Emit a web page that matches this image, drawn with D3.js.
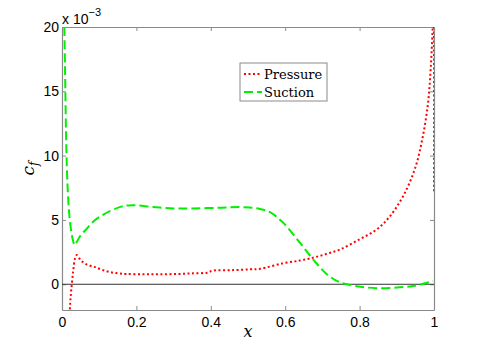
<!DOCTYPE html>
<html>
<head>
<meta charset="utf-8">
<script src="https://cdn.jsdelivr.net/npm/d3@7"></script>
<style>
  body { margin: 0; background: #fff; }
  .tick text { font-family: "Liberation Sans", Arial, sans-serif; font-size: 14px; fill: #000; }
</style>
</head>
<body>
<div id="chart"></div>
<script>
// pressure side skin friction (x, cf * 1e3)
const pressureX = [0.019, 0.022, 0.025, 0.03, 0.035, 0.04, 0.047, 0.055, 0.066, 0.08, 0.092, 0.11, 0.128, 0.15, 0.173, 0.22, 0.263, 0.31, 0.352, 0.39, 0.406, 0.46, 0.505, 0.532, 0.594, 0.64, 0.675, 0.71, 0.747, 0.8, 0.846, 0.882, 0.917, 0.949, 0.97, 0.984, 0.991, 0.9965, 0.999, 1.0]
const pressureY = [-3, -1.5, -0.4, 1.0, 2.0, 2.27, 2.0, 1.75, 1.55, 1.4, 1.3, 1.1, 0.95, 0.85, 0.8, 0.78, 0.78, 0.8, 0.85, 0.9, 1.06, 1.1, 1.16, 1.2, 1.63, 1.85, 2.07, 2.35, 2.7, 3.5, 4.26, 5.3, 6.85, 9.0, 11.5, 14.1, 16.7, 20, 23, 7.1]

// suction side
const suctionX = [0.005, 0.008, 0.012, 0.016, 0.021, 0.028, 0.034, 0.04, 0.05, 0.066, 0.085, 0.11, 0.155, 0.19, 0.245, 0.3, 0.352, 0.424, 0.478, 0.505, 0.532, 0.559, 0.594, 0.639, 0.675, 0.712, 0.747, 0.792, 0.846, 0.908, 0.954, 0.997]
const suctionY = [22, 17, 10.2, 7, 5.0, 3.6, 3.05, 3.3, 3.8, 4.3, 4.9, 5.4, 6.0, 6.15, 6.0, 5.9, 5.9, 5.95, 6.0, 5.97, 5.85, 5.6, 4.8, 3.25, 1.94, 0.78, 0.15, -0.15, -0.3, -0.24, -0.08, 0.25]

const xTicks = [0, 0.2, 0.4, 0.6, 0.8, 1]
const yTicks = [0, 5, 10, 15, 20]
const seriesNames = ["Pressure", "Suction"]

const margin = { top: 27, right: 45, bottom: 39, left: 62 }
const width = 479 - margin.left - margin.right
const height = 349 - margin.top - margin.bottom

const svg = d3.select("#chart").append("svg")
    .attr("width", 479)
    .attr("height", 349)
  .append("g")
    .attr("transform", "translate(" + margin.left + "," + margin.top + ")")

const xPositionScale = d3.scaleLinear().domain([0, 1]).range([0, width])
const yPositionScale = d3.scaleLinear().domain([-2, 20]).range([height, 0])

svg.append("defs").append("clipPath").attr("id", "clip")
  .append("rect").attr("width", width).attr("height", height)

// axes, ticks point inward like matlab
svg.append("g").attr("class", "axis x-axis")
  .attr("transform", "translate(0," + height + ")")
  .call(d3.axisBottom(xPositionScale).tickValues(xTicks).tickFormat(d3.format("~g")).tickSizeInner(-4).tickSizeOuter(0).tickPadding(7))
svg.append("g").attr("class", "axis x-axis-top")
  .call(d3.axisTop(xPositionScale).tickValues(xTicks).tickFormat("").tickSizeInner(-4).tickSizeOuter(0))
svg.append("g").attr("class", "axis y-axis")
  .call(d3.axisLeft(yPositionScale).tickValues(yTicks).tickSizeInner(-4).tickSizeOuter(0).tickPadding(3))
svg.append("g").attr("class", "axis y-axis-right")
  .attr("transform", "translate(" + width + ",0)")
  .call(d3.axisRight(yPositionScale).tickValues(yTicks).tickFormat("").tickSizeInner(-4).tickSizeOuter(0))

svg.selectAll(".axis path, .axis line").attr("stroke", "#8a8a8a")
svg.selectAll(".axis path").attr("stroke-width", 1.2)

// zero line
svg.append("line")
  .attr("x1", xPositionScale(0)).attr("x2", xPositionScale(1))
  .attr("y1", yPositionScale(0)).attr("y2", yPositionScale(0))
  .attr("stroke", "#333").attr("stroke-width", 1)

const pressure = pressureX.map((x, i) => [x, pressureY[i]])
const suction = suctionX.map((x, i) => [x, suctionY[i]])

const line = d3.line()
  .x(d => xPositionScale(d[0]))
  .y(d => yPositionScale(d[1]))
  .curve(d3.curveCatmullRom)

const plot = svg.append("g").attr("clip-path", "url(#clip)")

plot.append("path")
  .datum(pressure)
  .attr("d", line)
  .attr("fill", "none")
  .attr("stroke", "#ff0000")
  .attr("stroke-width", 2)
  .attr("stroke-dasharray", "2,2.5")

plot.append("path")
  .datum(suction)
  .attr("d", line)
  .attr("fill", "none")
  .attr("stroke", "#00f000")
  .attr("stroke-width", 2)
  .attr("stroke-dasharray", "9,4")

// exponent label
const expo = svg.append("text")
  .attr("x", 0).attr("y", -3)
  .style("font-family", "Liberation Sans, Arial, sans-serif")
  .style("font-size", "14px")
expo.append("tspan").text("x 10")
expo.append("tspan").attr("dy", -8).style("font-size", "11px").text("−3")

// axis labels
svg.append("text")
  .attr("x", xPositionScale(0.5)).attr("y", height + 27)
  .attr("text-anchor", "middle")
  .style("font-family", "DejaVu Serif, serif")
  .style("font-style", "italic")
  .style("font-size", "16px")
  .text("x")

const yl = svg.append("text")
  .attr("transform", "translate(-28," + (yPositionScale(9)) + ") rotate(-90)")
  .attr("text-anchor", "middle")
  .style("font-family", "DejaVu Serif, serif")
  .style("font-style", "italic")
  .style("font-size", "17px")
yl.append("tspan").text("c")
yl.append("tspan").attr("dy", 4).style("font-size", "12px").text("f")

// legend
const legend = svg.append("g").attr("transform", "translate(" + (240 - margin.left) + "," + (63 - margin.top) + ")")
legend.append("rect")
  .attr("width", 87).attr("height", 38)
  .attr("fill", "#fff").attr("stroke", "#8a8a8a")
const legendStyles = [
  { color: "#ff0000", dash: "2,2.5" },
  { color: "#00f000", dash: "9,4" }
]
seriesNames.forEach((name, i) => {
  const yy = 11 + i * 18
  legend.append("line")
    .attr("x1", 4).attr("x2", 22).attr("y1", yy).attr("y2", yy)
    .attr("stroke", legendStyles[i].color).attr("stroke-width", 2)
    .attr("stroke-dasharray", legendStyles[i].dash)
  legend.append("text")
    .attr("x", 24).attr("y", yy + 5)
    .style("font-family", "DejaVu Serif, serif")
    .style("font-size", "13px")
    .text(name)
})
</script>
</body>
</html>
